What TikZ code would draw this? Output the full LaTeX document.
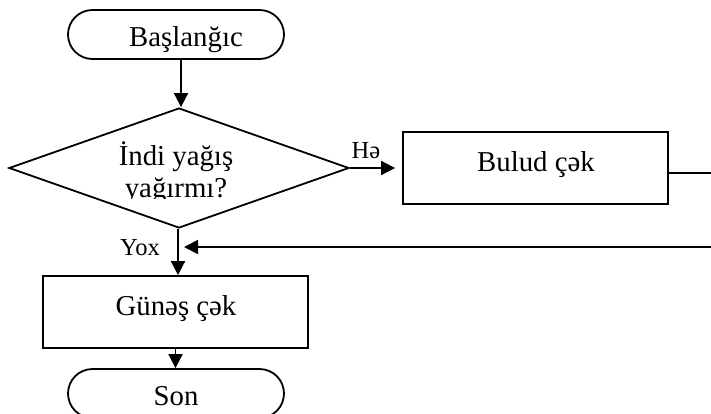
\documentclass[tikz,border=0pt]{standalone}
\usepackage{fontspec}
\setmainfont{Liberation Serif}
\usetikzlibrary{shapes.geometric,arrows.meta}
\begin{document}
\begin{tikzpicture}[x=1pt,y=-1pt,
  lw/.style={line width=1.8pt},
  term/.style={lw, draw, rectangle, rounded corners=24.5pt, minimum width=216pt, minimum height=49pt, inner sep=0pt},
  procbox/.style={lw, draw, rectangle, minimum width=265pt, minimum height=72pt, inner sep=0pt},
  decision/.style={lw, draw, diamond, minimum width=340pt, minimum height=120pt, inner sep=0pt},
  txt/.style={anchor=base, inner sep=0pt, font=\fontsize{28.8pt}{32pt}\selectfont},
  small/.style={anchor=base, inner sep=0pt, font=\fontsize{24.5pt}{28pt}\selectfont},
  arr/.style={lw, -{Triangle[length=14pt,width=14pt]}},
  conn/.style={lw}
]
\useasboundingbox[fill=white] (0,0) rectangle (711,413);
% shapes
\node[term] (start) at (176,34.5) {};
\node[txt] (startt) at (186,46) {Başlanğıc};
\node[decision] (dec) at (179,168) {};
\node[txt] (dect1) at (176,165) {İndi yağış};
\begin{scope}
  \clip (100,170) rectangle (260,198.5);
  \node[txt] (dect2) at (176,197) {yağırmı?};
\end{scope}
\node[procbox] (bulud) at (535.5,168) {};
\node[txt] (buludt) at (536,171) {Bulud çək};
\node[procbox] (gunes) at (175.5,312) {};
\node[txt] (gunest) at (176,315) {Günəş çək};
\node[term] (son) at (176,393.5) {};
\node[txt] (sont) at (176,405) {Son};
\coordinate (outR) at (711,173);
\coordinate (retR) at (711,247);
\coordinate (retL) at (184,247);
% labels
\node[small] (ha) at (366,158) {Hə};
\node[small] (yox) at (140,255.7) {Yox};
% connectors
\draw[arr] ([xshift=5pt]start.south) -- ([xshift=2pt]dec.north);
\draw[arr] (dec.east) -- ([xshift=-7pt]bulud.west);
\draw[conn] (bulud.east |- outR) -- (outR);
\draw[arr] (retR) -- (retL);
\draw[arr] ([xshift=-1pt]dec.south) -- ([xshift=-1pt]dec.south |- gunes.north);
\draw[arr] (gunes.south) -- (gunes.south |- son.north);
\end{tikzpicture}
\end{document}
